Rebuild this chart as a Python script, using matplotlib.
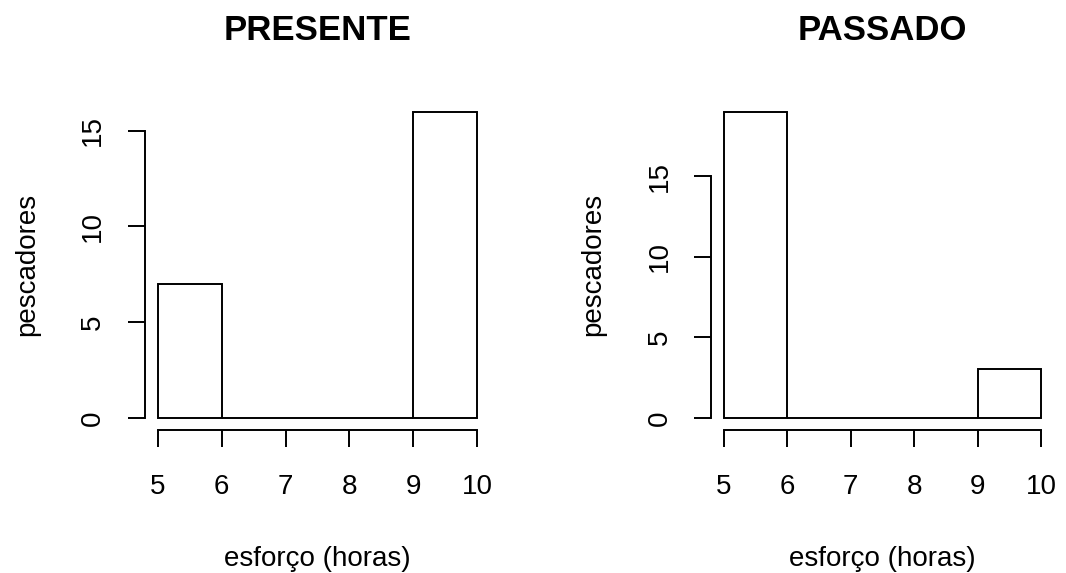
import matplotlib.pyplot as plt
import numpy as np

plt.rcParams['font.family'] = ['Liberation Sans', 'DejaVu Sans']

# histogram bins (horas) and counts per period
edges = [5, 6, 7, 8, 9, 10]
presente = [7, 0, 0, 0, 16]
passado = [19, 0, 0, 0, 3]
yticks = [0, 5, 10, 15]

titles = ['PRESENTE', 'PASSADO']
counts_list = [presente, passado]
lefts = [145.2 / 1066, 711.3 / 1066]
widths = [344.6 / 1066, 342.4 / 1066]

fig = plt.figure(figsize=(10.66, 5.73), dpi=100)

for title, counts, left, w in zip(titles, counts_list, lefts, widths):
    ax = fig.add_axes([left, 143 / 573, w, 330.5 / 573])
    counts = np.array(counts)
    ax.bar(edges[:-1], counts, width=1, align='edge', color='white',
           edgecolor='black', linewidth=1.4)

    # R-style axis range: 4% padding on both sides
    xr = edges[-1] - edges[0]
    ax.set_xlim(edges[0] - 0.04 * xr, edges[-1] + 0.04 * xr)
    ym = counts.max()
    ax.set_ylim(-0.04 * ym, ym * 1.04)

    ax.spines['top'].set_visible(False)
    ax.spines['right'].set_visible(False)
    ax.spines['left'].set_bounds(yticks[0], yticks[-1])
    ax.spines['bottom'].set_bounds(edges[0], edges[-1])
    for s in ['left', 'bottom']:
        ax.spines[s].set_linewidth(1.4)

    ax.set_xticks(edges)
    ax.set_yticks(yticks)
    ax.set_yticklabels([str(t) for t in yticks], rotation=90, va='center')
    ax.tick_params(axis='both', length=12.5, width=1.4, labelsize=20)
    ax.tick_params(axis='x', pad=19)
    ax.tick_params(axis='y', pad=15.5)

    ax.set_xlabel('esforço (horas)', fontsize=20, labelpad=33)
    ax.set_ylabel('pescadores', fontsize=20, labelpad=29)
    ax.set_title(title, fontsize=25, fontweight='bold', pad=43)

fig.savefig('out.png', dpi=100, facecolor='white')
